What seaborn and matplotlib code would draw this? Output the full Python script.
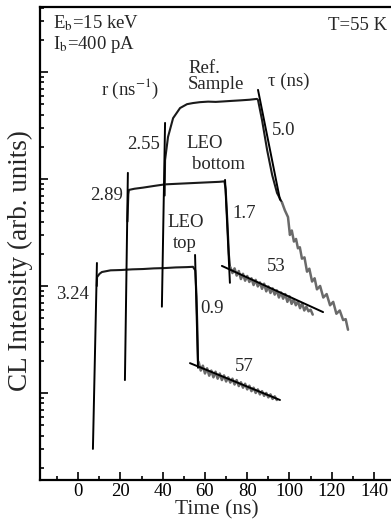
import numpy as np
import pandas as pd
import matplotlib
matplotlib.use('Agg')
import matplotlib.pyplot as plt
from matplotlib.ticker import LogLocator, NullFormatter
import seaborn as sns

sns.set_theme(style='ticks')
plt.rcParams['font.family'] = ['Liberation Serif', 'DejaVu Serif']
plt.rcParams['mathtext.fontset'] = 'stix'

# ---- CL transients (time in ns, intensity arb. units, log scale) ----
# Ref. sample: rise, plateau, fast decay
ref_t = [40.9, 41.1, 42.5, 44.9, 48.2, 51.5, 54.3, 57.6, 61.5, 65.1, 68.5, 72.3, 77.0, 81.1, 84.6,
         85.1, 87.0, 89.4, 91.8, 94.1, 96.5]
ref_I = [70, 150, 247, 370, 460, 500, 512, 522, 528, 525, 530, 536, 543, 550, 560,
         547, 356, 187, 109, 74, 60]
ref_tail_t = [96.5, 97.8, 99.3, 100.2, 101.1, 102.1, 103.1, 104.0, 104.9, 105.9, 107.1, 108.3,
              109.4, 110.7, 111.9, 113.0, 114.5, 116.0, 117.6, 119.2, 120.7, 122.2, 123.8,
              125.4, 126.6, 127.7]
ref_tail_I = [60, 51, 44, 30, 33, 26, 27.5, 22.5, 23, 18, 18.5, 13.6, 14.5, 11.0, 11.8, 9.3,
              10.0, 7.8, 8.4, 6.6, 7.1, 5.5, 5.9, 4.8, 4.9, 3.9]

# LEO bottom
bot_t = [23.3, 23.7, 24.0, 26.6, 30.7, 35.8, 41.0, 46.1, 51.3, 56.4, 61.5, 66.7, 69.2,
         69.8, 70.6, 71.3, 71.8]
bot_I = [40, 72, 79, 81, 83, 86, 89, 90, 91, 92, 93, 94, 95,
         80, 40, 20, 15]
bot_tail_t = list(range(72, 112))
bot_tail_I = [15.0, 13.2, 14.6, 12.5, 13.8, 11.6, 13.0, 11.2, 12.4, 10.9, 11.8, 10.2, 11.4, 9.9,
              10.8, 9.4, 10.5, 8.9, 9.9, 8.6, 9.5, 8.3, 9.1, 7.8, 8.7, 7.6, 8.4, 7.1, 8.0, 6.8,
              7.5, 6.6, 7.2, 6.2, 6.9, 5.9, 6.4, 5.8, 6.0, 5.4]

# LEO top
top_t = [8.8, 8.9, 10.1, 11.2, 15.3, 20.4, 25.6, 30.7, 35.8, 41.0, 46.1, 51.3, 54.3,
         55.4, 56.0, 56.4, 56.7]
top_I = [10, 12.1, 13.0, 13.5, 14.0, 14.1, 14.3, 14.4, 14.6, 14.7, 14.9, 15.0, 15.1,
         14, 8, 4, 2.0]
top_tail_t = list(range(57, 95))
top_tail_I = [1.95, 1.62, 1.80, 1.52, 1.70, 1.45, 1.62, 1.40, 1.58, 1.36, 1.52, 1.32, 1.46,
              1.28, 1.40, 1.25, 1.36, 1.20, 1.32, 1.16, 1.26, 1.12, 1.22, 1.08, 1.17, 1.04,
              1.12, 1.00, 1.08, 0.97, 1.04, 0.94, 1.00, 0.91, 0.97, 0.88, 0.93, 0.86]

# fitted rise / decay lines: (t0, t1), (I0, I1)
fit_t = {'3.24': (6.95, 8.85), '2.89': (22.1, 23.5), '2.55': (39.6, 41.1),
         '0.9': (55.3, 56.7), '1.7': (69.5, 71.8), '5.0': (85.1, 95.5),
         '53': (68.0, 115.9), '57': (52.9, 95.5)}
fit_I = {'3.24': (0.30, 16.4), '2.89': (1.32, 114), '2.55': (6.4, 334),
         '0.9': (19.5, 1.72), '1.7': (98, 10.7), '5.0': (680, 64),
         '53': (15.4, 5.7), '57': (1.9, 0.86)}

fig = plt.figure(figsize=(3.91, 5.26), dpi=100)
ax = fig.add_axes([0.1023, 0.0875, 0.9028, 0.8992])

for t, I in [(ref_t, ref_I), (bot_t, bot_I), (top_t, top_I)]:
    sns.lineplot(x=t, y=I, ax=ax, color='#1a1a1a', lw=1.5, sort=False, estimator=None)
for t, I in [(ref_tail_t, ref_tail_I), (bot_tail_t, bot_tail_I), (top_tail_t, top_tail_I)]:
    sns.lineplot(x=t, y=I, ax=ax, color='#6a6a6a', lw=1.8, sort=False, estimator=None)

for k in fit_t:
    ax.plot(fit_t[k], fit_I[k], color='black', lw=1.4)

ax.set_yscale('log')
ax.set_xlim(-18.1, 149)
ax.set_ylim(10 ** -0.813, 10 ** 3.607)

ax.set_xticks(range(0, 141, 20))
ax.set_xticks(range(-10, 141, 20), minor=True)
ax.yaxis.set_major_locator(LogLocator(base=10))
ax.yaxis.set_minor_locator(LogLocator(base=10, subs=np.arange(2, 10)))
ax.yaxis.set_major_formatter(NullFormatter())
ax.yaxis.set_minor_formatter(NullFormatter())
ax.tick_params(which='both', direction='in', top=False, right=False, width=1.2,
               labelsize=13.5, pad=2, colors='black')
ax.tick_params(which='major', length=6)
ax.tick_params(which='minor', length=3)
for s in ['left', 'bottom', 'top']:
    ax.spines[s].set_linewidth(1.6)
    ax.spines[s].set_color('black')
ax.spines['right'].set_visible(False)

ax.set_xlabel('Time (ns)', fontsize=15.5, labelpad=0)
ax.set_ylabel('CL Intensity (arb. units)', fontsize=19.5)
ax.yaxis.set_label_coords(-0.02, 0.463)

fs = 13.5
ax.text(-12.0, 10 ** 3.458, r'E$_\mathrm{b}$=15 keV', fontsize=fs, va='center', ha='left')
ax.text(-12.0, 10 ** 3.26, r'I$_\mathrm{b}$=400 pA', fontsize=fs, va='center', ha='left')
ax.text(146.2, 10 ** 3.43, 'T=55 K', fontsize=fs, va='center', ha='right')
ax.text(24.5, 10 ** 2.84, r'r (ns$^{-1}$)', fontsize=fs, va='center', ha='center')
ax.text(59.5, 10 ** 3.028, 'Ref.', fontsize=fs, va='center', ha='center')
ax.text(65.2, 10 ** 2.879, 'Sample', fontsize=fs, va='center', ha='center')
ax.text(99.8, 10 ** 2.916, 'τ (ns)', fontsize=fs, va='center', ha='center')
ax.text(97.4, 10 ** 2.449, '5.0', fontsize=fs, va='center', ha='center')
ax.text(30.7, 10 ** 2.318, '2.55', fontsize=fs, va='center', ha='center')
ax.text(60.0, 10 ** 2.336, 'LEO', fontsize=fs, va='center', ha='center')
ax.text(66.6, 10 ** 2.131, 'bottom', fontsize=fs, va='center', ha='center')
ax.text(13.6, 10 ** 1.85, '2.89', fontsize=fs, va='center', ha='center')
ax.text(78.5, 10 ** 1.673, '1.7', fontsize=fs, va='center', ha='center')
ax.text(51.0, 10 ** 1.589, 'LEO', fontsize=fs, va='center', ha='center')
ax.text(50.5, 10 ** 1.40, 'top', fontsize=fs, va='center', ha='center')
ax.text(-2.5, 10 ** 0.916, '3.24', fontsize=fs, va='center', ha='center')
ax.text(63.3, 10 ** 0.794, '0.9', fontsize=fs, va='center', ha='center')
ax.text(93.6, 10 ** 1.178, '53', fontsize=fs, va='center', ha='center')
ax.text(78.5, 10 ** 0.252, '57', fontsize=fs, va='center', ha='center')

fig.savefig('out.png', dpi=100)
